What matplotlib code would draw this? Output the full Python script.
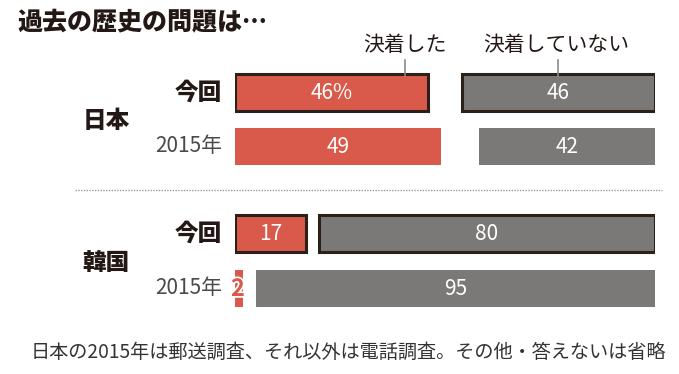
import matplotlib.pyplot as plt
import matplotlib.patheffects as pe

plt.rcParams['font.family'] = ['Noto Sans CJK JP', 'DejaVu Sans']

# データ
countries = ['日本', '韓国']
periods = ['今回', '2015年']
settled = [46, 49, 17, 2]        # 決着した
not_settled = [46, 42, 80, 95]   # 決着していない
value_labels_red = ['46%', '49', '17', '2']
value_labels_grey = ['46', '42', '80', '95']
highlight = [True, False, True, False]

title = '過去の歴史の問題は…'
legend_labels = ['決着した', '決着していない']
note = '日本の2015年は郵送調査、それ以外は電話調査。その他・答えないは省略'

RED = '#d95a4b'
GREY = '#7a7978'
EDGE = '#2b2118'
INK = '#231815'

W, H = 679, 374
fig = plt.figure(figsize=(W / 100, H / 100), dpi=100)

# 棒グラフ領域 (x: 0-100 が 235px-655px)
x0, x1 = 235, 655
ax = fig.add_axes([x0 / W, 0, (x1 - x0) / W, 1])
ax.set_xlim(0, 100)
ax.set_ylim(H, 0)
ax.axis('off')

row_y = [92, 146, 233, 288]
bar_h = 37

for i, y in enumerate(row_y):
    lw = 2.2 if highlight[i] else 0
    ax.barh(y, settled[i], height=bar_h, left=0, color=RED,
            edgecolor=EDGE, linewidth=lw)
    ax.barh(y, not_settled[i], height=bar_h, left=100 - not_settled[i],
            color=GREY, edgecolor=EDGE, linewidth=lw)
    if settled[i] >= 5:
        ax.text(settled[i] / 2, y + 1, value_labels_red[i], color='white',
                fontsize=15, ha='center', va='center')
    else:
        ax.text(settled[i] / 2 - 0.3, y + 1, value_labels_red[i], color=RED,
                fontsize=17, fontweight='bold', ha='center', va='center',
                path_effects=[pe.withStroke(linewidth=2.5, foreground='white')])
    ax.text(100 - not_settled[i] / 2, y + 1, value_labels_grey[i],
            color='white', fontsize=15, ha='center', va='center')


def px(x, y):
    return x / W, 1 - y / H


# タイトル
fig.text(*px(17, 21), title, fontsize=18, fontweight='black', color=INK,
         ha='left', va='center')

# 凡例ラベルと引き出し線
fig.text(*px(405, 45), legend_labels[0], fontsize=15, color=INK,
         ha='center', va='center')
fig.text(*px(556, 45), legend_labels[1], fontsize=15, color=INK,
         ha='center', va='center')
for lx in (405, 558):
    fig.add_artist(plt.Line2D([lx / W, lx / W], [1 - 60 / H, 1 - 76 / H],
                              color='#8a8a8a', linewidth=1.2))

# 行ラベル
for i, y in enumerate(row_y):
    lab = periods[i % 2]
    if lab == '今回':
        fig.text(*px(222, y), lab, fontsize=17, fontweight='black',
                 color=INK, ha='right', va='center')
    else:
        fig.text(*px(222, y), lab, fontsize=15, color='#4a4a4a',
                 ha='right', va='center')

fig.text(*px(106, 121), countries[0], fontsize=17, fontweight='black',
         color=INK, ha='center', va='center')
fig.text(*px(106, 263), countries[1], fontsize=17, fontweight='black',
         color=INK, ha='center', va='center')

# 区切りの点線
fig.add_artist(plt.Line2D([75 / W, 662 / W], [1 - 190 / H, 1 - 190 / H],
                          color='#9a9a9a', linewidth=1, linestyle=(0, (1, 1))))

# 注記
fig.text(*px(348, 352), note, fontsize=13.8, color='#333333',
         ha='center', va='center')

fig.savefig('out.png', dpi=100, facecolor='white')
